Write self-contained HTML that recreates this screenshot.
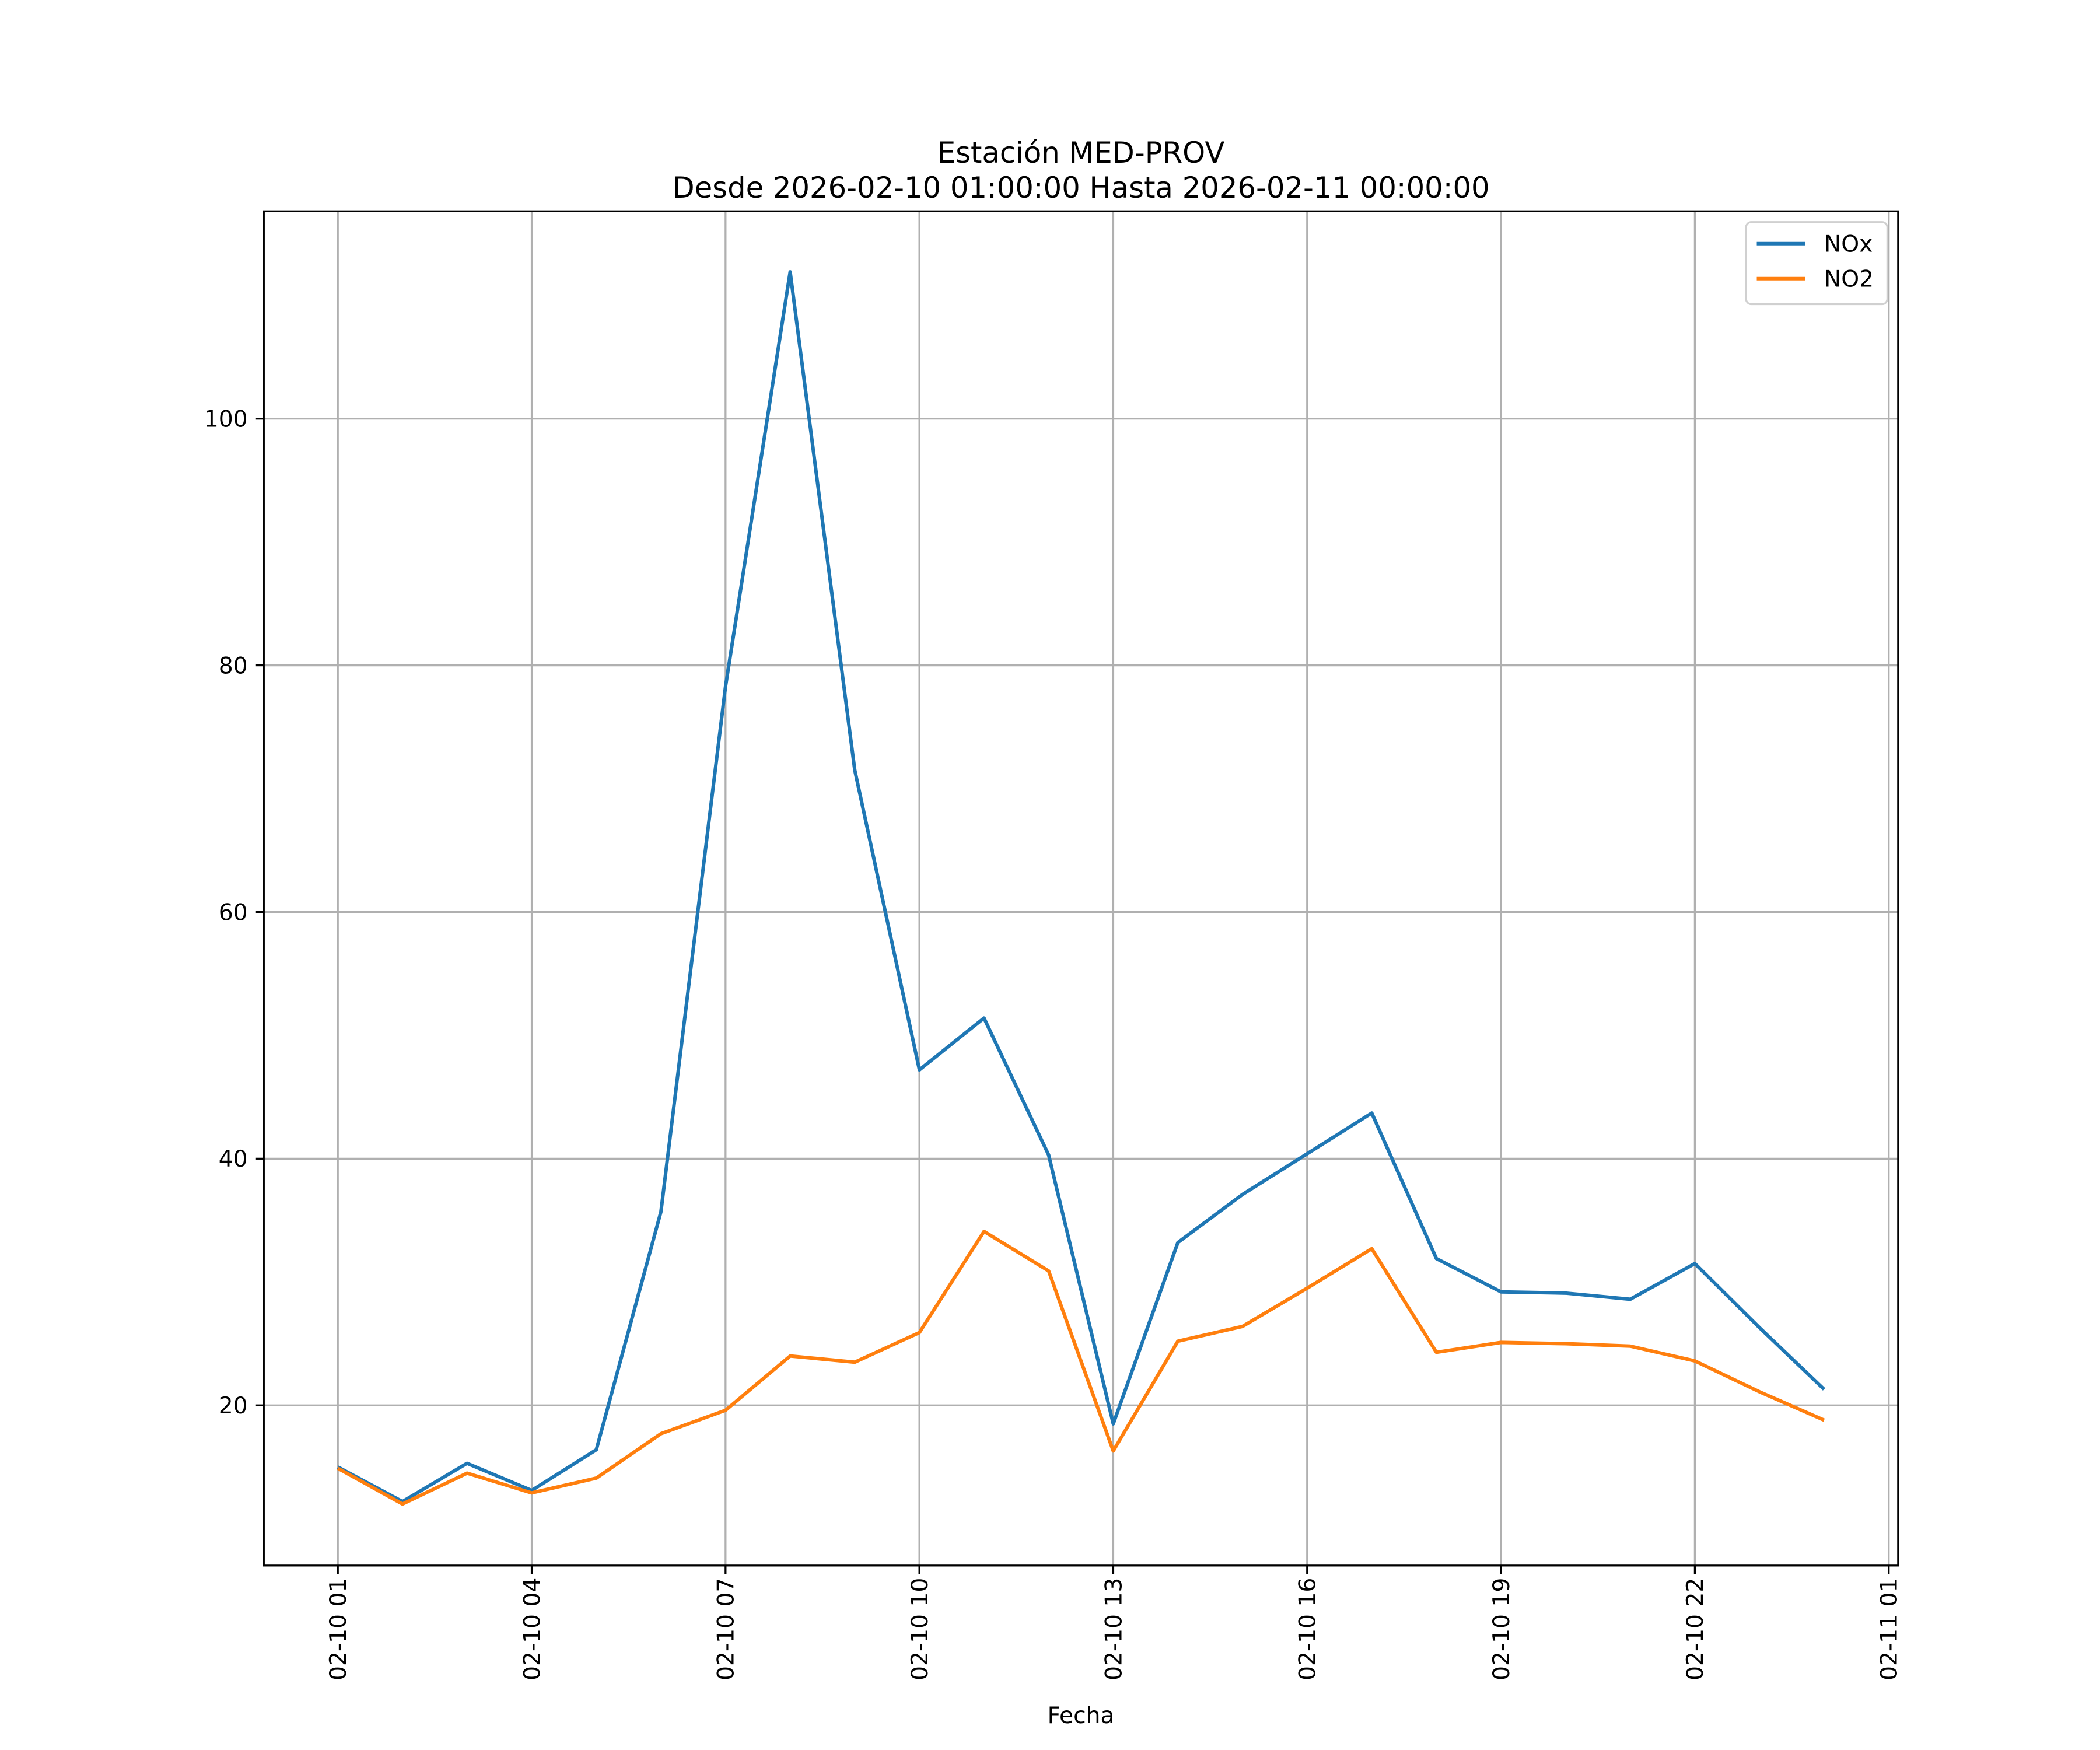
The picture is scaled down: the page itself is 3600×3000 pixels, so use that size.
<!DOCTYPE html>
<html><head><meta charset="utf-8"><style>html,body{margin:0;padding:0;background:#fff}svg{display:block}</style></head>
<body>
<svg id="chart" xmlns="http://www.w3.org/2000/svg" width="3600" height="3000" viewBox="0 0 1560 1300" font-family="DejaVu Sans, Liberation Sans, sans-serif">
<rect width="1560" height="1300" fill="#fff"/>
<g id="grid"></g>
<g id="series"></g>
<rect x="196" y="157" width="1214" height="1006" fill="none" stroke="#000" stroke-width="1.4"/>
<g id="ticks"></g>
<text x="803" y="121" text-anchor="middle" font-size="21.5">Estación MED-PROV</text>
<text x="803" y="147" text-anchor="middle" font-size="21.5">Desde 2026-02-10 01:00:00 Hasta 2026-02-11 00:00:00</text>
<text x="803" y="1280" text-anchor="middle" font-size="17">Fecha</text>
<g>
<rect x="1297" y="165" width="105" height="61" rx="4" fill="#fff" fill-opacity="0.8" stroke="#d0d0d0" stroke-width="1.4"/>
<line x1="1305" y1="181" x2="1341" y2="181" stroke="#1f77b4" stroke-width="2.6"/>
<text x="1355" y="187" font-size="17">NOx</text>
<line x1="1305" y1="207" x2="1341" y2="207" stroke="#ff7f0e" stroke-width="2.6"/>
<text x="1355" y="213" font-size="17">NO2</text>
</g>
</svg>
<script>
const hours = [1,2,3,4,5,6,7,8,9,10,11,12,13,14,15,16,17,18,19,20,21,22,23,24];
const noxValues = [15.0,12.2,15.3,13.1,16.4,35.7,78.3,111.9,71.5,47.2,51.4,40.3,18.5,33.2,37.1,40.4,43.7,31.9,29.2,29.1,28.6,31.5,26.3,21.3];
const no2Values = [14.9,12.0,14.5,12.9,14.1,17.7,19.6,24.0,23.5,25.9,34.1,30.9,16.3,25.2,26.4,29.5,32.7,24.3,25.1,25.0,24.8,23.6,21.1,18.8];
const yTicks = [20,40,60,80,100];
const xTickHours = [1,4,7,10,13,16,19,22,25];
const xTickLabels = ["02-10 01","02-10 04","02-10 07","02-10 10","02-10 13","02-10 16","02-10 19","02-10 22","02-11 01"];

const NS = "http://www.w3.org/2000/svg";
function xs(h){ return 251 + (h-1)*48; }
function ys(v){ return 1044 - (v-20)*9.1625; }
function mk(tag, attrs, parent){ const e=document.createElementNS(NS,tag); for(const k in attrs) e.setAttribute(k,attrs[k]); parent.appendChild(e); return e; }
const grid=document.getElementById('grid'), ticks=document.getElementById('ticks'), series=document.getElementById('series');

yTicks.forEach(v=>{
  const y=ys(v);
  const g=mk('line',{x1:196,x2:1410,y1:y,y2:y,stroke:'#b0b0b0','stroke-width':1.4},grid);
  
  
  mk('line',{x1:189.7,x2:196,y1:y,y2:y,stroke:'#000','stroke-width':1.4},ticks);
  const t=mk('text',{x:184,y:y+6,'text-anchor':'end','font-size':17},ticks);
  t.textContent=v;
  
  
});
xTickHours.forEach((h,i)=>{
  const x=xs(h);
  const g=mk('line',{x1:x,x2:x,y1:157,y2:1163,stroke:'#b0b0b0','stroke-width':1.4},grid);
  
  
  mk('line',{x1:x,x2:x,y1:1163,y2:1169.3,stroke:'#000','stroke-width':1.4},ticks);
  const t=mk('text',{x:0,y:0,'text-anchor':'end','font-size':17,transform:`translate(${x+6},1172) rotate(-90)`},ticks);
  t.textContent=xTickLabels[i];
  
  
});
function drawLine(vals,color,name){
  const pts=vals.map((v,i)=>xs(hours[i]).toFixed(2)+','+ys(v).toFixed(2)).join(' ');
  const p=mk('polyline',{points:pts,fill:'none',stroke:color,'stroke-width':2.6,'stroke-linejoin':'round'},series);
  
  
}
drawLine(noxValues,'#1f77b4','nox-line');
drawLine(no2Values,'#ff7f0e','no2-line');
</script>
</body></html>
